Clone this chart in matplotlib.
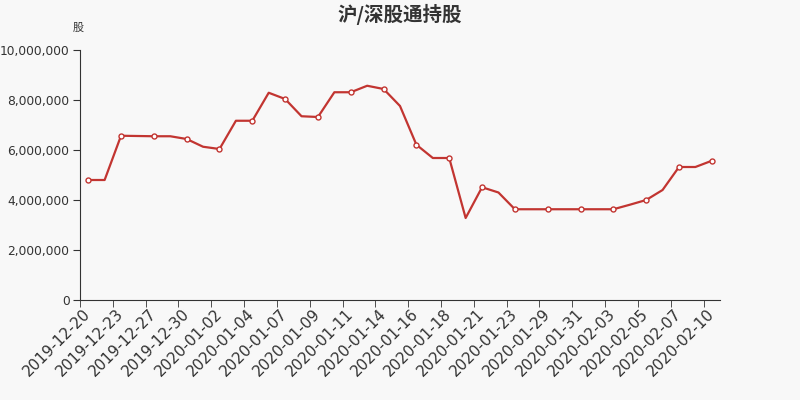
import matplotlib.pyplot as plt
from matplotlib.ticker import FuncFormatter

# ------------------------------
# Data
# ------------------------------
dates = [
    "2019-12-20", "2019-12-21", "2019-12-23", "2019-12-24", "2019-12-27",
    "2019-12-28", "2019-12-30", "2019-12-31", "2020-01-02", "2020-01-03",
    "2020-01-04", "2020-01-06", "2020-01-07", "2020-01-08", "2020-01-09",
    "2020-01-10", "2020-01-11", "2020-01-13", "2020-01-14", "2020-01-15",
    "2020-01-16", "2020-01-17", "2020-01-18", "2020-01-20", "2020-01-21",
    "2020-01-22", "2020-01-23", "2020-01-24", "2020-01-29", "2020-01-30",
    "2020-01-31", "2020-02-01", "2020-02-03", "2020-02-04", "2020-02-05",
    "2020-02-06", "2020-02-07", "2020-02-08", "2020-02-10",
]
holdings = [
    4800000, 4800000, 6570000, 6560000, 6550000,
    6550000, 6440000, 6130000, 6040000, 7170000,
    7170000, 8290000, 8040000, 7350000, 7320000,
    8310000, 8310000, 8570000, 8440000, 7760000,
    6210000, 5680000, 5680000, 3280000, 4510000,
    4300000, 3630000, 3630000, 3630000, 3630000,
    3630000, 3630000, 3630000, 3810000, 4000000,
    4400000, 5320000, 5320000, 5570000,
]

# ------------------------------
# Plot
# ------------------------------
plt.rcParams["font.family"] = ["DejaVu Sans", "Noto Sans CJK SC"]
BG = "#f8f8f8"
RED = "#c23531"

fig = plt.figure(figsize=(8, 4), dpi=100, facecolor=BG)
ax = fig.add_axes([0.1, 0.25, 0.8, 0.625], facecolor=BG)

x = list(range(len(dates)))
ax.plot(x, holdings, color=RED, lw=1.6, zorder=3)
ax.plot(x[::2], holdings[::2], ls="none", marker="o", ms=3.6,
        mfc="white", mec=RED, mew=1.0, zorder=4)

ax.set_xlim(-0.5, len(dates) - 0.5)
ax.set_ylim(0, 10000000)
ax.set_yticks(range(0, 10000001, 2000000))
ax.yaxis.set_major_formatter(FuncFormatter(lambda v, p: f"{int(v):,}"))

# labels at every other category, ticks on band boundaries
ax.set_xticks(x[::2])
ax.set_xticklabels(dates[::2], rotation=45, ha="right", va="center",
                   rotation_mode="anchor", fontsize=11, color="#333333")
ax.tick_params(axis="x", length=0, pad=8)
ax.set_xticks([i - 0.5 for i in x[::2]], minor=True)
ax.tick_params(axis="x", which="minor", length=5, color="#333333")
ax.tick_params(axis="y", labelsize=8.8, colors="#333333", length=5, pad=2.5)

for s in ["top", "right"]:
    ax.spines[s].set_visible(False)
ax.spines["left"].set_color("#333333")
ax.spines["bottom"].set_color("#333333")

fig.text(0.5, 0.965, "沪/深股通持股", ha="center", va="center", fontsize=14,
         fontweight="bold", color="#333333", family=["Noto Sans CJK SC"])
fig.text(0.0975, 0.93, "股", ha="center", va="center", fontsize=8,
         color="#333333", family=["Noto Sans CJK SC"])

plt.savefig("out.png", dpi=100, facecolor=BG)
